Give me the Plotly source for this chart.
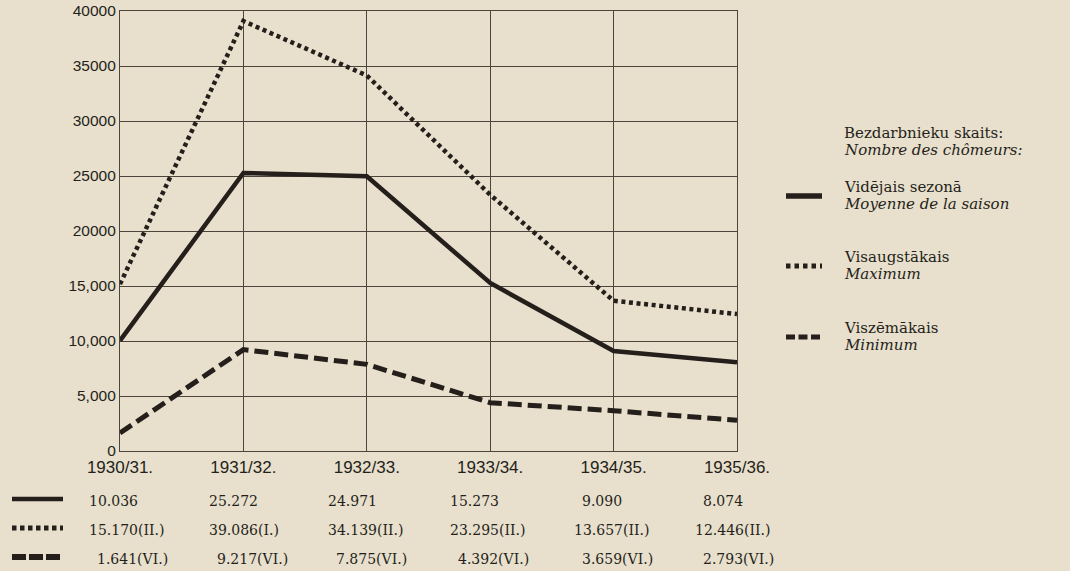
import plotly.graph_objects as go

seasons = ["1930/31.", "1931/32.", "1932/33.", "1933/34.", "1934/35.", "1935/36."]
avg_season = [10036, 25272, 24971, 15273, 9090, 8074]
max_season = [15170, 39086, 34139, 23295, 13657, 12446]
max_month = ["II.", "I.", "II.", "II.", "II.", "II."]
min_season = [1641, 9217, 7875, 4392, 3659, 2793]
min_month = ["VI.", "VI.", "VI.", "VI.", "VI.", "VI."]

y_tickvals = [0, 5000, 10000, 15000, 20000, 25000, 30000, 35000, 40000]
y_ticktext = ["0", "5,000", "10,000", "15,000", "20000", "25000", "30000", "35000", "40000"]

legend_head = ["Bezdarbnieku skaits:", "Nombre des chômeurs:"]
legend_lv = ["Vidējais sezonā", "Visaugstākais", "Viszēmākais"]
legend_fr = ["Moyenne de la saison", "Maximum", "Minimum"]

W, H = 1070, 571
L, R, T, B = 120, 333, 11, 120
PAPER = "#e8dfcc"
INK = "#241f1b"
GRID = "#4d443b"
SANS = "Liberation Sans, Arial, sans-serif"
SERIF = "DejaVu Serif, Liberation Serif, serif"


def px_x(px):
    return (px - L) / (W - L - R)


def px_y(py):
    return 1 - (py - T) / (H - T - B)


def fmt(v):
    return f"{v:,}".replace(",", ".")


styles = [
    dict(width=4.5, dash="solid"),
    dict(width=4.5, dash="4px,3.6px"),
    dict(width=5, dash="14px,6px"),
]
series = [avg_season, max_season, min_season]

fig = go.Figure()
for ys, st in zip(series, styles):
    fig.add_trace(go.Scatter(
        x=seasons, y=ys, mode="lines", cliponaxis=False,
        line=dict(color=INK, width=st["width"], dash=st["dash"]),
        showlegend=False, hoverinfo="skip"
    ))

shapes = []
annotations = []

# legend on the right
annotations.append(dict(xref="paper", yref="paper", x=px_x(842), y=px_y(133), xanchor="left", yanchor="middle",
                        text=legend_head[0], showarrow=False, font=dict(family=SERIF, size=15, color=INK)))
annotations.append(dict(xref="paper", yref="paper", x=px_x(842), y=px_y(150), xanchor="left", yanchor="middle",
                        text="<i>" + legend_head[1] + "</i>", showarrow=False, font=dict(family=SERIF, size=15, color=INK)))

leg_rows = [187, 257, 328]
leg_dash = [dict(width=5.5, dash="solid"), dict(width=5, dash="4.5px,4px"), dict(width=5, dash="9px,3.5px")]
for i in range(3):
    yy = leg_rows[i]
    shapes.append(dict(type="line", xref="paper", yref="paper", x0=px_x(786), x1=px_x(822),
                       y0=px_y(yy + 9), y1=px_y(yy + 9), line=dict(color=INK, **leg_dash[i])))
    annotations.append(dict(xref="paper", yref="paper", x=px_x(842), y=px_y(yy), xanchor="left", yanchor="middle",
                            text=legend_lv[i], showarrow=False, font=dict(family=SERIF, size=15, color=INK)))
    annotations.append(dict(xref="paper", yref="paper", x=px_x(842), y=px_y(yy + 17), xanchor="left", yanchor="middle",
                            text="<i>" + legend_fr[i] + "</i>", showarrow=False, font=dict(family=SERIF, size=15, color=INK)))

# table under the chart
table_rows = [501, 530, 559]
col_shift = [-33, -36, -41, -42, -42, -44]
tab_dash = [dict(width=4.5, dash="solid"), dict(width=5, dash="4.5px,3.5px"), dict(width=6, dash="14px,3px")]
for r in range(3):
    yy = table_rows[r]
    shapes.append(dict(type="line", xref="paper", yref="paper", x0=px_x(12), x1=px_x(63),
                       y0=px_y(yy - 2), y1=px_y(yy - 2), line=dict(color=INK, **tab_dash[r])))
    for c in range(len(seasons)):
        v = series[r][c]
        txt = fmt(v)
        if r == 1:
            txt += "(" + max_month[c] + ")"
        elif r == 2:
            txt += "(" + min_month[c] + ")"
        annotations.append(dict(xref="x", yref="paper", x=c, y=px_y(yy), xanchor="left", yanchor="middle",
                                xshift=col_shift[c] + (8 if v < 10000 else 0),
                                text=txt, showarrow=False, font=dict(family=SERIF, size=14, color=INK)))

fig.update_layout(
    width=W, height=H,
    margin=dict(l=L, r=R, t=T, b=B),
    paper_bgcolor=PAPER, plot_bgcolor=PAPER,
    shapes=shapes, annotations=annotations,
    showlegend=False,
)
fig.update_xaxes(
    type="category", range=[0, len(seasons) - 1], automargin=False,
    showgrid=True, gridcolor=GRID, gridwidth=1,
    showline=True, linecolor=GRID, linewidth=1.2, mirror=True,
    ticks="", tickfont=dict(family=SANS, size=17, color=INK),
    zeroline=False,
)
fig.update_yaxes(
    range=[0, 40000], tickvals=y_tickvals, ticktext=y_ticktext, automargin=False,
    showgrid=True, gridcolor=GRID, gridwidth=1,
    showline=True, linecolor=GRID, linewidth=1.2, mirror=True,
    ticks="", tickfont=dict(family=SANS, size=15.5, color=INK),
    zeroline=False,
)

fig.write_html(
    "out.html",
    config={"displayModeBar": False},
    post_script="document.body.style.margin='0';document.body.style.background='" + PAPER + "';",
)
